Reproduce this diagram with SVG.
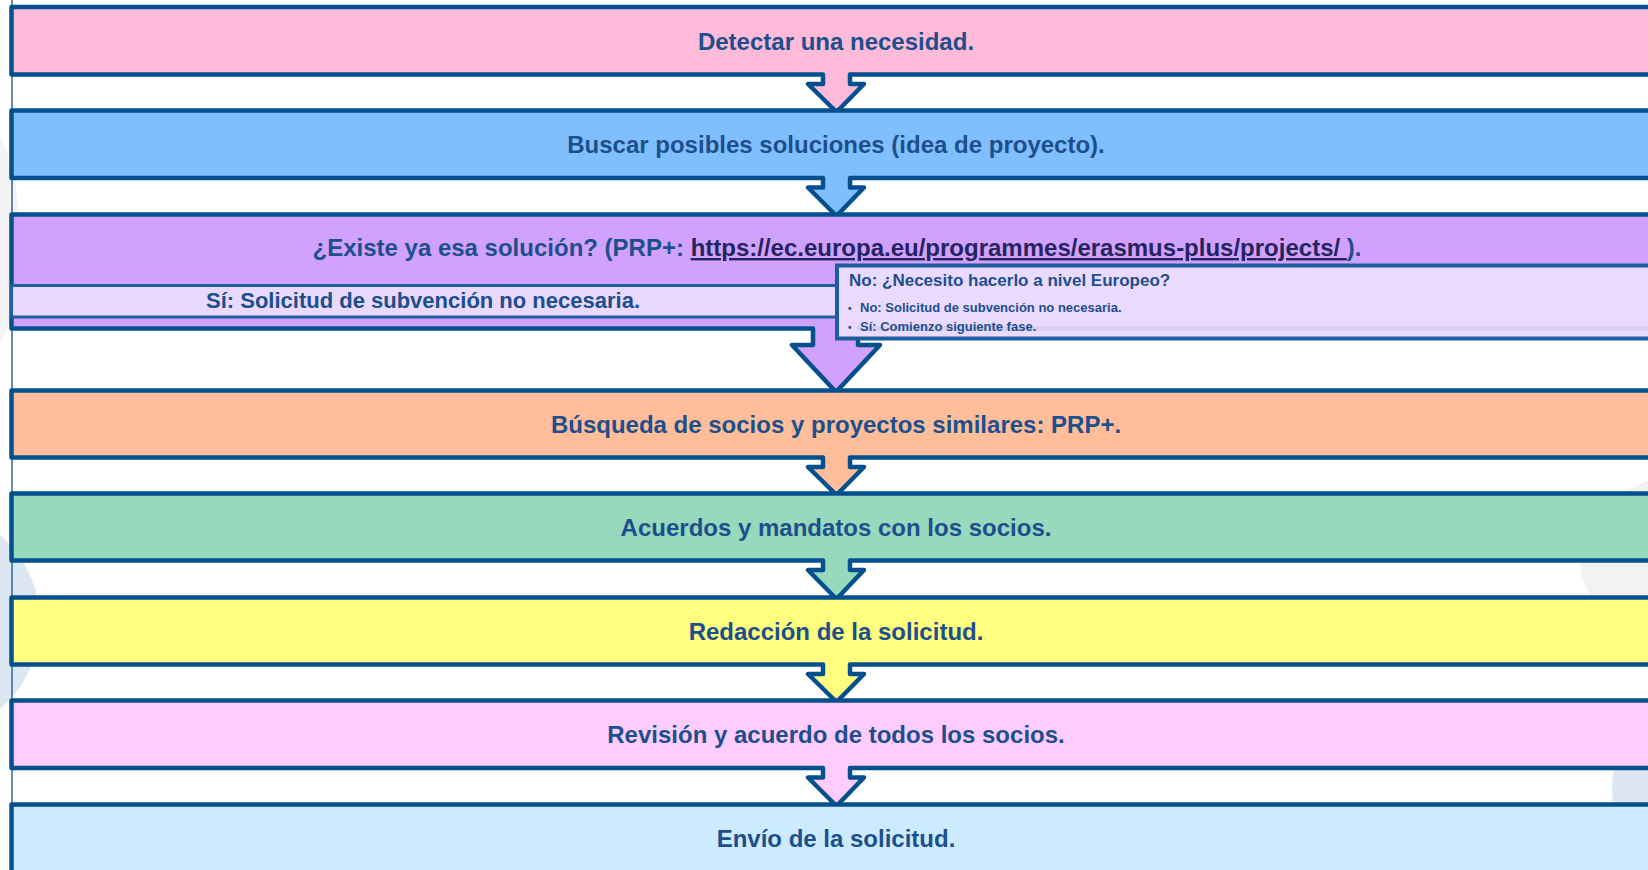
<svg xmlns="http://www.w3.org/2000/svg" width="1648" height="870" viewBox="0 0 1648 870">
  <defs>
    <style>
      .box { stroke: #04508E; stroke-width: 4.5; stroke-linejoin: round; }
      .t { font-family: "Liberation Sans", Arial, sans-serif; font-weight: bold; fill: #1C4F8C; }
      .main { font-size: 24px; text-anchor: middle; }
      .link { fill: #26245E; text-decoration: underline; }
      .bg { fill: #DDE7F3; }
    </style>
  </defs>
  <rect x="0" y="0" width="1648" height="870" fill="#FFFFFF"/>
  <g id="background">
    <circle cx="-75" cy="622" r="115" class="bg"/>
    <circle cx="1722" cy="790" r="110" class="bg"/>
    <ellipse cx="1710" cy="560" rx="130" ry="90" fill="#F2F2F2"/>
    <ellipse cx="-20" cy="240" rx="40" ry="120" fill="#F3F3F3"/>
    <line x1="12" y1="0" x2="12" y2="870" stroke="#1F5C99" stroke-width="1.4"/>
  </g>
  <g id="connectors"></g>
  <g id="n1">
    <path class="box" fill="#FEBAD9" d="M11.5,7 H1660 V74.5 H850 V84 H864 L836.5,112 L808,84 H823 V74.5 H11.5 Z"/>
    <text class="t main" x="836" y="49.5">Detectar una necesidad.</text>
  </g>
  <g id="n2">
    <path class="box" fill="#80BFFF" d="M11.5,110.5 H1660 V178 H850 V187.5 H864 L836.5,216 L808,187.5 H823 V178 H11.5 Z"/>
    <text class="t main" x="836" y="153">Buscar posibles soluciones (idea de proyecto).</text>
  </g>
  <g id="n3">
    <path class="box" fill="#D1A1FE" d="M11.5,214.5 H1660 V328.5 H858 V345 H880 L836,392 L792,345 H813 V328.5 H11.5 Z"/>
    <text class="t main" x="837" y="256">¿Existe ya esa solución? (PRP+: <tspan class="link">https://ec.europa.eu/programmes/erasmus-plus/projects/ </tspan>).</text>
  </g>
  <g id="n3-si">
    <rect x="11.5" y="285.5" width="840" height="31.5" fill="#EAD9FF" stroke="#2060A0" stroke-width="3"/>
    <text class="t" x="423" y="307.5" font-size="22" text-anchor="middle">Sí: Solicitud de subvención no necesaria.</text>
  </g>
  <g id="n3-no">
    <rect x="837" y="265.5" width="830" height="73" fill="#EBDAFF" stroke="#1F5E9E" stroke-width="4"/>
    <rect x="857" y="326" width="800" height="5" fill="#D8CEF0"/>
    <text class="t" x="849" y="286" font-size="17">No: ¿Necesito hacerlo a nivel Europeo?</text>
    <text class="t" x="848" y="311.5" font-size="10">•</text>
    <text class="t" x="860" y="311.5" font-size="13">No: Solicitud de subvención no necesaria.</text>
    <text class="t" x="848" y="330.5" font-size="10">•</text>
    <text class="t" x="860" y="330.5" font-size="13">Sí: Comienzo siguiente fase.</text>
  </g>
  <g id="n4">
    <path class="box" fill="#FFBD99" d="M11.5,390.5 H1660 V457.5 H850 V467 H864 L836.5,495 L808,467 H823 V457.5 H11.5 Z"/>
    <text class="t main" x="836" y="432.5">Búsqueda de socios y proyectos similares: PRP+.</text>
  </g>
  <g id="n5">
    <path class="box" fill="#97D9BD" d="M11.5,493.5 H1660 V560.5 H850 V570 H864 L836.5,599 L808,570 H823 V560.5 H11.5 Z"/>
    <text class="t main" x="836" y="535.5">Acuerdos y mandatos con los socios.</text>
  </g>
  <g id="n6">
    <path class="box" fill="#FFFE7E" d="M11.5,597.5 H1660 V664.5 H850 V674 H864 L836.5,702 L808,674 H823 V664.5 H11.5 Z"/>
    <text class="t main" x="836" y="639.5">Redacción de la solicitud.</text>
  </g>
  <g id="n7">
    <path class="box" fill="#FFCCFF" d="M11.5,700.5 H1660 V768 H850 V777.5 H864 L836.5,806 L808,777.5 H823 V768 H11.5 Z"/>
    <text class="t main" x="836" y="743">Revisión y acuerdo de todos los socios.</text>
  </g>
  <g id="n8">
    <rect class="box" fill="#CCEBFF" x="11.5" y="804.5" width="1650" height="70"/>
    <text class="t main" x="836" y="846.5">Envío de la solicitud.</text>
  </g>
</svg>
